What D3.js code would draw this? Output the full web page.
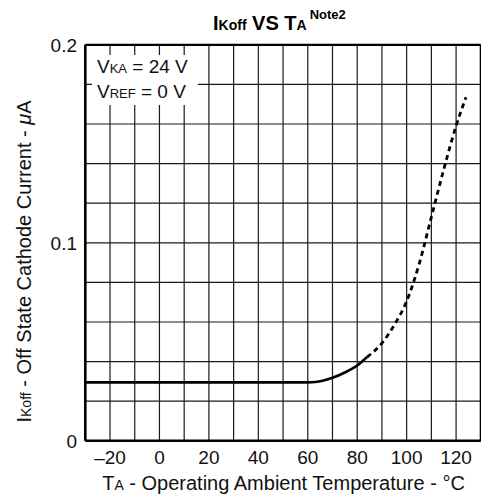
<!DOCTYPE html>
<html><head><meta charset="utf-8">
<script src="https://cdn.jsdelivr.net/npm/d3@7"></script>
<style>body{margin:0;background:#fff}svg{display:block;font-family:"Liberation Sans",Arial,sans-serif}</style>
</head><body>
<script>
// data
const solidT = [-30, -10, 10, 30, 50, 60, 63, 66, 70, 75, 80, 84];
const solidI = [0.0295, 0.0295, 0.0295, 0.0295, 0.0295, 0.0295, 0.0297, 0.0303, 0.0318, 0.0345, 0.038, 0.0423];
const dashT = [84, 90, 95, 100, 105, 110, 115, 120, 124];
const dashI = [0.0423, 0.0493, 0.0585, 0.0705, 0.089, 0.113, 0.137, 0.159, 0.1735];
const xTicks = [-20, 0, 20, 40, 60, 80, 100, 120];
const xTickLabels = ["\u201320", "0", "20", "40", "60", "80", "100", "120"];
const yTicks = [0, 0.1, 0.2];
const yTickLabels = ["0", "0.1", "0.2"];
const xGrid = d3.range(-20, 130, 10);
const yGrid = d3.range(1, 10).map(i => i * 0.02);

const W = 481, H = 497;
const svg = d3.select("body").append("svg").attr("width", W).attr("height", H);
const x = d3.scaleLinear().domain([-30, 130]).range([85.3, 480.8]);
const y = d3.scaleLinear().domain([0, 0.2]).range([440.8, 44.8]);

const g = svg.append("g");
function stext(px, py, size, anchor, rot) {
  const t = g.append("g").attr("transform", `translate(${px},${py})` + (rot ? ` rotate(${rot})` : ""));
  return t.append("text").attr("font-size", size).attr("text-anchor", anchor || "start").attr("fill", "#111");
}

// grid
g.selectAll(".vg").data(xGrid).join("line")
  .attr("x1", d => x(d)).attr("x2", d => x(d)).attr("y1", y(0)).attr("y2", y(0.2))
  .attr("stroke", "#1a1a1a").attr("stroke-width", 1.2);
g.selectAll(".hg").data(yGrid).join("line")
  .attr("x1", x(-30)).attr("x2", x(130)).attr("y1", d => y(d)).attr("y2", d => y(d))
  .attr("stroke", "#1a1a1a").attr("stroke-width", 1.2);

// annotation box (white background)
g.append("rect").attr("x", 92).attr("y", 55).attr("width", 106).attr("height", 50).attr("fill", "#fff");
const ann = stext(97, 73, 19);
ann.append("tspan").text("V");
ann.append("tspan").attr("font-size", 13).text("KA");
ann.append("tspan").text(" = 24 V");
const ann2 = stext(97, 98, 19);
ann2.append("tspan").text("V");
ann2.append("tspan").attr("font-size", 13).text("REF");
ann2.append("tspan").text(" = 0 V");

// frame
g.append("line").attr("x1", x(-30)).attr("x2", x(130)).attr("y1", y(0.2)).attr("y2", y(0.2)).attr("stroke", "#000").attr("stroke-width", 2.2);
g.append("line").attr("x1", x(-30)).attr("x2", x(130)).attr("y1", y(0)).attr("y2", y(0)).attr("stroke", "#000").attr("stroke-width", 2.6);
g.append("line").attr("x1", x(-30)).attr("x2", x(-30)).attr("y1", y(0)).attr("y2", y(0.2)).attr("stroke", "#000").attr("stroke-width", 2.6);
g.append("line").attr("x1", x(130)).attr("x2", x(130)).attr("y1", y(0)).attr("y2", y(0.2)).attr("stroke", "#000").attr("stroke-width", 2.2);

// curves
const line = d3.line().x(d => x(d[0])).y(d => y(d[1])).curve(d3.curveMonotoneX);
g.append("path").attr("d", line(d3.zip(solidT, solidI))).attr("fill", "none").attr("stroke", "#000").attr("stroke-width", 2.6);
g.append("path").attr("d", line(d3.zip(dashT, dashI))).attr("fill", "none").attr("stroke", "#000").attr("stroke-width", 2.8).attr("stroke-dasharray", "5,4");

// tick labels
xTicks.forEach((d, i) => stext(x(d), 464, 19, "middle").text(xTickLabels[i]));
yTicks.forEach((d, i) => stext(77, y(d) + 7, 19, "end").text(yTickLabels[i]));

// x title
const xt = stext(283.5, 490, 20, "middle");
xt.append("tspan").text("T");
xt.append("tspan").attr("font-size", 14).text("A");
xt.append("tspan").text(" - Operating Ambient Temperature - \u00b0C");

// y title
const yt = stext(31, 261.5, 20, "middle", -90);
yt.append("tspan").text("I");
yt.append("tspan").attr("font-size", 14).text("Koff");
yt.append("tspan").text(" - Off State Cathode Current - ");
yt.append("tspan").attr("font-style", "italic").text("\u03bc");
yt.append("tspan").text("A");

// title
const tt = stext(213, 30, 20).attr("font-weight", "bold").attr("fill", "#000");
tt.append("tspan").text("I");
tt.append("tspan").attr("font-size", 14).text("Koff");
tt.append("tspan").text(" VS T");
tt.append("tspan").attr("font-size", 14).text("A");
tt.append("tspan").attr("font-size", 13).attr("dx", 3).attr("dy", -11).text("Note2");
</script>
</body></html>
